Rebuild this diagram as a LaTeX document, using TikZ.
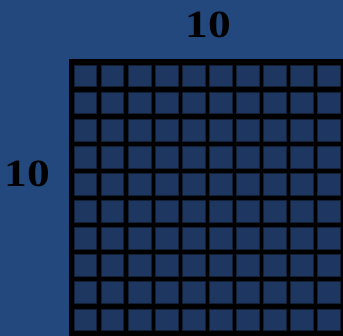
\documentclass[tikz,border=0pt]{standalone}
\usepackage{fontspec}
\newfontfamily\labelfont{Liberation Serif}
\definecolor{bgblue}{RGB}{34,72,126}
\definecolor{cellblue}{RGB}{29,55,97}
\definecolor{celledge}{RGB}{18,32,55}
\tikzset{
  cellbox/.style={fill=cellblue, draw=celledge, line width=0.6pt},
  numlabel/.style={font=\labelfont\bfseries\fontsize{38.5}{46}\selectfont, text=black, inner sep=0pt, xscale=1.18}
}
\begin{document}
\begin{tikzpicture}[x=1pt,y=-1pt]
\useasboundingbox (0,0) rectangle (343,336);
\fill[bgblue] (0,0) rectangle (343,336);
\fill[black] (69.3,59.3) rectangle (343,336);
\foreach \i in {0,...,9}{
  \foreach \j in {0,...,9}{
    \path[cellbox] ({74.3+27.05*\i},{65+27.1*\j}) rectangle ++(22.4,21.7);
  }
}
\node[numlabel] (top) at (208,25) {10};
\node[numlabel] (left) at (27.5,174) {10};
\end{tikzpicture}
\end{document}
